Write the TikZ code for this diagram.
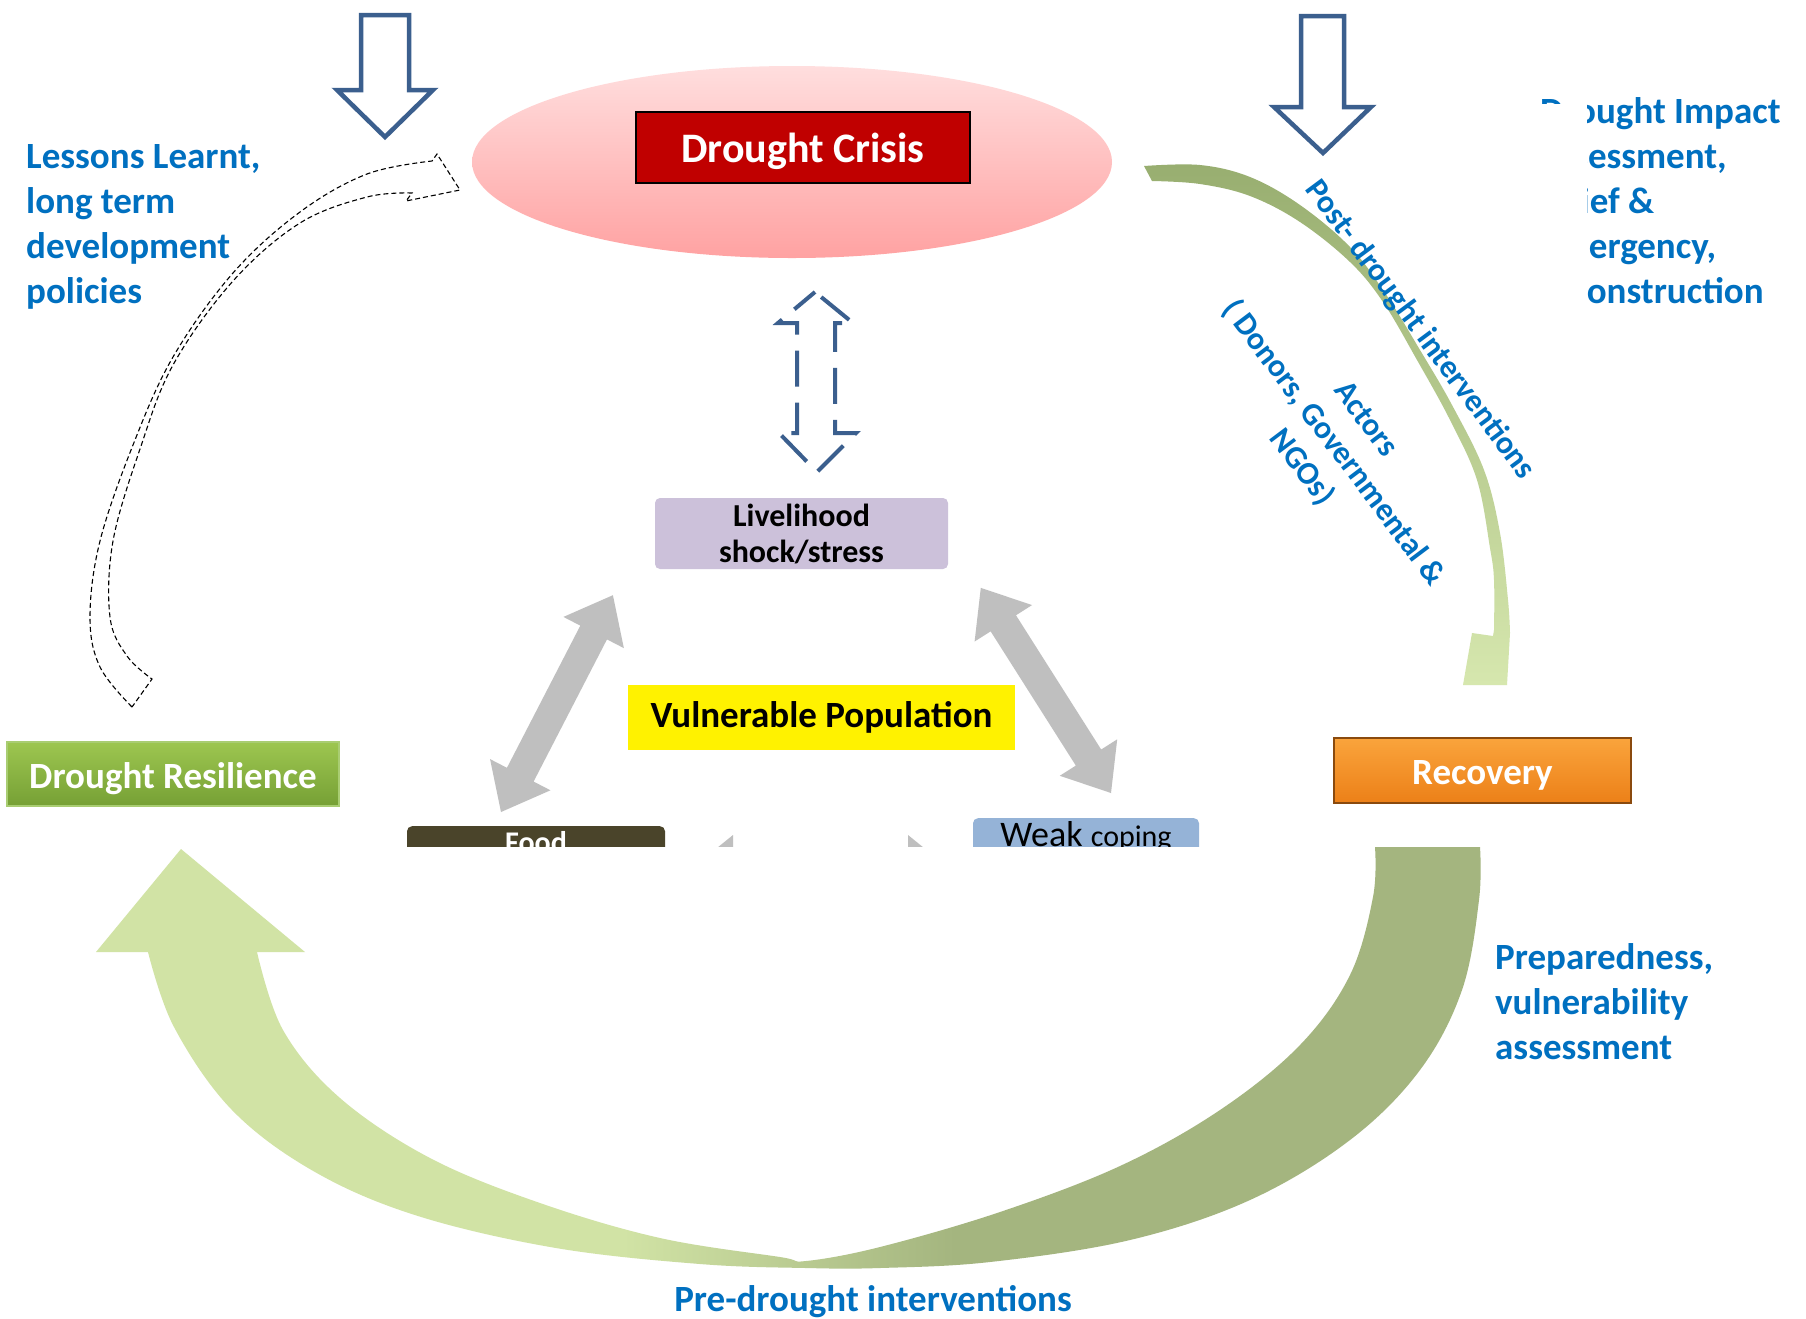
\documentclass[tikz,border=0pt]{standalone}
\usepackage{fontspec}
\setmainfont{Carlito}
\usetikzlibrary{shapes.geometric}

\definecolor{tblue}{HTML}{0070C0}
\definecolor{arrblue}{HTML}{3B5F8E}
\definecolor{crisisred}{HTML}{C00000}
\definecolor{pinktop}{HTML}{FFDEDE}
\definecolor{pinkbot}{HTML}{FFA2A2}
\definecolor{lilac}{HTML}{CCC1DA}
\definecolor{foodbrown}{HTML}{4A442A}
\definecolor{copeblue}{HTML}{95B3D7}
\definecolor{grayarr}{HTML}{BFBFBF}
\definecolor{restop}{HTML}{9DC650}
\definecolor{resbot}{HTML}{76A035}
\definecolor{resedge}{HTML}{A9CD72}
\definecolor{rectop}{HTML}{FAA43C}
\definecolor{recbot}{HTML}{EC8018}
\definecolor{recedge}{HTML}{8A4A0E}
\definecolor{ulight}{HTML}{D1E3A5}
\definecolor{udark}{HTML}{A4B57F}
\definecolor{arctop}{HTML}{98AE70}
\definecolor{arcmid}{HTML}{C3D89A}
\definecolor{arcbot}{HTML}{D6E7AE}

\pgfdeclarehorizontalshading{ushade}{100bp}{color(0bp)=(ulight); color(44bp)=(ulight); color(56bp)=(udark); color(100bp)=(udark)}

\tikzset{
 bluelbl/.style={text=tblue, font=\fontsize{37}{45}\selectfont\bfseries, align=left, inner sep=0pt},
 rotlbl/.style={text=tblue, font=\fontsize{32}{40}\selectfont\bfseries, align=center, inner sep=0pt},
 hollowdown/.style={draw=arrblue, line width=4.5pt, fill=white, line join=miter},
 stagebox/.style={text=white, font=\fontsize{37}{45}\selectfont\bfseries, inner sep=0pt, text height=28pt, text depth=0pt},
 smallbox/.style={font=\fontsize{32}{36}\selectfont\bfseries, inner sep=0pt, align=center, rounded corners=5pt},
}

\begin{document}
\begin{tikzpicture}[x=1pt,y=-1pt]
\useasboundingbox (0,0) rectangle (1806,1318);
\fill[white] (0,0) rectangle (1806,1318);

% left dashed curved arrow (lessons learnt)
\draw[black, line width=1.1pt, dash pattern=on 5pt off 3pt, line join=miter]
 plot[smooth, tension=0.6] coordinates {(132,707) (100,667) (90,617) (100,541) (133,445) (173,357) (233,273) (300,212) (367,174) (432,161)}
 -- (437,154) -- (460,190) -- (406,201) -- (412,193)
 -- plot[smooth, tension=0.6] coordinates {(412,193) (367,197) (300,223) (233,281) (173,365) (140,449) (113,541) (110,617) (127,656) (152,679)}
 -- cycle;

% crisis ellipse and box
\node[ellipse, minimum width=640pt, minimum height=192pt, top color=pinktop, bottom color=pinkbot, inner sep=0pt] (crisisbg) at (792,162) {};
\node[draw=black, line width=2pt, fill=crisisred, minimum width=334pt, minimum height=71pt, text=white, inner sep=0pt, text height=31pt, text depth=1pt, font=\fontsize{42}{50}\selectfont\bfseries] (crisis) at (803,147.5) {Drought Crisis};

% hollow down arrows
\draw[hollowdown] (361,15) -- (409,15) -- (409,90) -- (433,90) -- (385,137) -- (337,90) -- (361,90) -- cycle;
\draw[hollowdown] (1301,16) -- (1344,16) -- (1344,107) -- (1371,107) -- (1323,153) -- (1274,107) -- (1301,107) -- cycle;

% dashed double arrow
\draw[arrblue, line width=4pt, dash pattern=on 36pt off 16pt, dash phase=44pt] (815,292) -- (853,323) -- (835,323) -- (835,433) -- (856,433) -- (817,472) -- (779,433) -- (797,433) -- (797,323) -- (778,323) -- cycle;

% top-right curved arrow
\shade[top color=arctop, middle color=arcmid, bottom color=arcbot] plot[smooth, tension=0.6] coordinates {(1144,166) (1200,165) (1250,177) (1300,205) (1350,247) (1385,293) (1420,350) (1452,405) (1484,470) (1500,533) (1508,600) (1510,633)} -- (1507,685) -- (1463,685) -- (1472,633) -- (1493,636) -- plot[smooth,tension=0.6] coordinates {(1494,630) (1494,580) (1490,548) (1477,480) (1450,420) (1417,360) (1383,302) (1350,262) (1300,222) (1250,196) (1200,184) (1152,181)} -- cycle;

% centre boxes
\node[smallbox, fill=lilac, minimum width=293pt, minimum height=71pt] (shock) at (801.5,533.5) {Livelihood\\shock/stress};
\node[fill=yellow, minimum width=387pt, minimum height=65pt, font=\fontsize{37}{42}\selectfont\bfseries, inner sep=0pt] (vuln) at (821.5,717.5) {Vulnerable Population};

% grey double arrows
\begin{scope}[shift={(501,812)}, rotate=62.7]
\fill[grayarr] (0,0) -- (42,34) -- (42,15) -- (202,15) -- (202,34) -- (244,0) -- (202,-34) -- (202,-15) -- (42,-15) -- (42,-34) -- cycle;
\end{scope}
\begin{scope}[shift={(1111,793)}, rotate=122.4]
\fill[grayarr] (0,0) -- (42,34) -- (42,15) -- (201,15) -- (201,34) -- (243,0) -- (201,-34) -- (201,-15) -- (42,-15) -- (42,-34) -- cycle;
\end{scope}

% lower (cut) boxes
\node[fill=foodbrown, rounded corners=5pt, minimum width=258pt, text height=26pt, text depth=20pt, inner sep=0pt, anchor=north, text=white, font=\fontsize{30}{36}\selectfont\bfseries] (food) at (536,826) {Food};
\node[fill=copeblue, rounded corners=5pt, minimum width=226pt, text height=28pt, text depth=34pt, inner sep=0pt, anchor=north, font=\fontsize{36}{42}\selectfont] (coping) at (1086,818) {Weak {\fontsize{30}{36}\selectfont coping}};
\fill[grayarr] (691,869) -- (733,835) -- (733,854) -- (908,854) -- (908,835) -- (950,869) -- (908,903) -- (908,884) -- (733,884) -- (733,903) -- cycle;

% white cover
\fill[white] (380,847) rectangle (1262,1010);

% bottom U arrow
\shade[shading=ushade] plot[smooth, tension=0.6] coordinates {(1480,847) (1479,900) (1462,990) (1420,1070) (1350,1140) (1250,1200) (1130,1240) (990,1262) (880,1268) (806,1268) (700,1264) (556,1248) (418,1216) (315,1172) (232,1110) (174,1027) (148,952)} -- (96,952) -- (181,849) -- (305,952) -- (257,952) -- plot[smooth, tension=0.6] coordinates {(257,952) (283,1030) (340,1098) (430,1158) (540,1203) (660,1238) (780,1257) (806,1261) (880,1247) (1000,1212) (1120,1166) (1220,1110) (1300,1045) (1350,975) (1373,897) (1375,847)} -- cycle;

% stage boxes
\node[draw=resedge, line width=1.5pt, top color=restop, bottom color=resbot, minimum width=332pt, minimum height=64pt, stagebox] (resil) at (173,774) {Drought Resilience};
\node[draw=recedge, line width=2pt, top color=rectop, bottom color=recbot, minimum width=297pt, minimum height=65pt, stagebox] (recov) at (1482.5,770.5) {Recovery};

% texts
\node[bluelbl, anchor=north west] (lessons) at (26,144) {Lessons Learnt,\\long term\\development\\policies};
\node[bluelbl, anchor=north west] (impact) at (1540,97) {Drought Impact\\assessment,\\relief \&\\emergency,\\reconstruction};
\fill[white] (1528,104) rectangle (1587,310);
\node[bluelbl, anchor=north west] (prep) at (1495,943) {Preparedness,\\vulnerability\\assessment};
\node[bluelbl, anchor=base] (pre) at (873,1311) {Pre-drought interventions};
\node[rotlbl, rotate=-53.4] (post) at (1420,330) {Post- drought interventions};
\node[rotlbl, rotate=-53] (actors) at (1333,444) {Actors\\( Donors, Governmental \&\\NGOs)};
\end{tikzpicture}
\end{document}
